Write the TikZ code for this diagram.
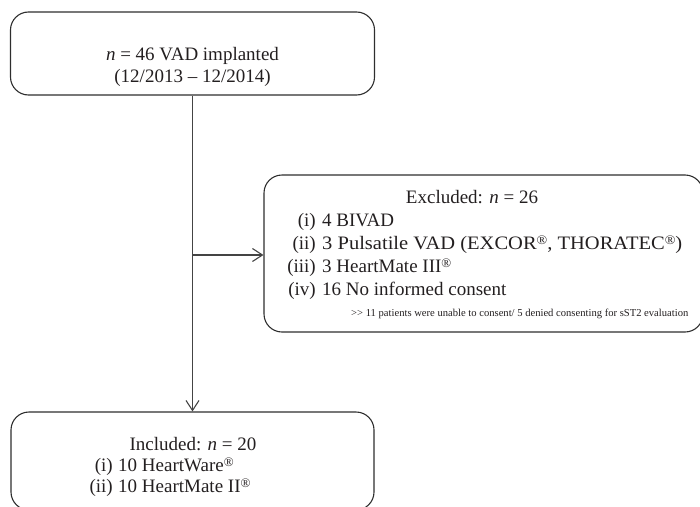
\documentclass[tikz,border=0pt]{standalone}
\usepackage{fontspec}
\setmainfont{Liberation Serif}
\usetikzlibrary{arrows.meta}
\definecolor{boxc}{HTML}{2E2E2E}
\definecolor{linec}{HTML}{444444}
\definecolor{textc}{HTML}{231F20}
\newcommand{\reg}{\raisebox{0.55ex}{\fontsize{13}{13}\selectfont\textregistered}}
\begin{document}
\begin{tikzpicture}[x=1pt,y=-1pt,
  box/.style={draw=boxc, line width=1.1pt, rounded corners=18pt, inner sep=0pt},
  conn/.style={draw=linec, line width=1.3pt, -{Straight Barb[length=10pt,width=13pt,line width=1.1pt]}},
  txt/.style={font=\fontsize{19}{22}\selectfont, inner sep=0pt, text=textc},
  small/.style={font=\fontsize{10.6}{12}\selectfont, inner sep=0pt, text=textc}]
\useasboundingbox (0,0) rectangle (700,506);
% boxes
\node[box, minimum width=364pt, minimum height=83pt] (top) at (192.5,53.5) {};
\node[box, minimum width=439pt, minimum height=157pt] (exc) at (483.5,253.5) {};
\node[box, minimum width=363pt, minimum height=98pt] (inc) at (192.5,461) {};
% top text
\node[txt, anchor=base] (t1) at (192.5,60) {\textit{n} = 46 VAD implanted};
\node[txt, anchor=base] (t2) at (192.5,82) {(12/2013 – 12/2014)};
% excluded text
\node[txt, anchor=base] (e0) at (472,203) {Excluded: \textit{n} = 26};
\node[txt, anchor=base east] (e1l) at (316,226) {(i)};
\node[txt, anchor=base west] (e1) at (322,226) {4 BIVAD};
\node[txt, anchor=base east] (e2l) at (316,249) {(ii)};
\node[txt, anchor=base west] (e2) at (322,249) {\scalebox{1.08}[1]{3 Pulsatile VAD (EXCOR\reg, THORATEC\reg)}};
\node[txt, anchor=base east] (e3l) at (316,272) {(iii)};
\node[txt, anchor=base west] (e3) at (322,272) {3 HeartMate III\reg};
\node[txt, anchor=base east] (e4l) at (316,295) {(iv)};
\node[txt, anchor=base west] (e4) at (322,295) {16 No informed consent};
\node[small, anchor=base west] (e5) at (351,316) {>{}> 11 patients were unable to consent/ 5 denied consenting for sST2 evaluation};
% included text
\node[txt, anchor=base] (i0) at (193,450) {Included: \textit{n} = 20};
\node[txt, anchor=base east] (i1l) at (113,471) {(i)};
\node[txt, anchor=base west] (i1) at (118,471) {10 HeartWare\reg};
\node[txt, anchor=base east] (i2l) at (113,492) {(ii)};
\node[txt, anchor=base west] (i2) at (118,492) {10 HeartMate II\reg};
% connectors
\coordinate (br) at (192.5,255);
\draw[conn] (top.south) -- (inc.north);
\draw[conn] (br) -- (br -| exc.west);
\end{tikzpicture}
\end{document}
